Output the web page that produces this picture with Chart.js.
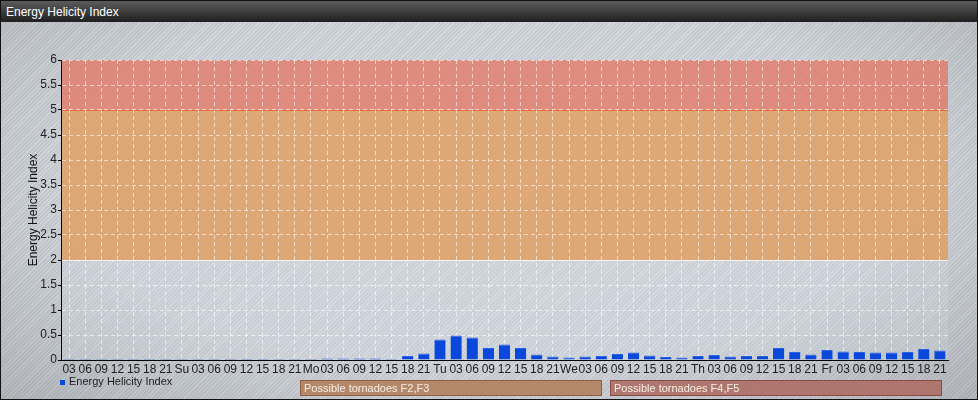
<!DOCTYPE html>
<html>
<head>
<meta charset="utf-8">
<script src="https://cdn.jsdelivr.net/npm/chart.js@4/dist/chart.umd.min.js"></script>
<style>
    html, body { margin: 0; padding: 0; }
    body { width: 978px; height: 400px; overflow: hidden; font-family: "Liberation Sans", Arial, sans-serif; }
    #frame {
        position: relative; width: 976px; height: 398px; border: 1px solid #111;
        background:
            radial-gradient(ellipse at 50% 45%, rgba(255,255,255,0.10) 0%, rgba(255,255,255,0) 60%, rgba(0,0,0,0.14) 100%),
            repeating-linear-gradient(135deg, #c6cbd1 0px, #c6cbd1 2px, #d6dade 2px, #d6dade 3px);
    }
    #titlebar {
        position: absolute; left: 0; top: 0; width: 976px; height: 21px;
        background: linear-gradient(#5c5c5c, #1f1f1f);
        color: #fff; font-size: 12px; line-height: 22px; padding-left: 5px; box-sizing: border-box;
    }
    #chartBox { position: absolute; left: -1px; top: -1px; width: 978px; height: 400px; }
    .legend { position: absolute; left: 59px; top: 374px; font-size: 11px; color: #222; }
    .legend span.sq { display: inline-block; width: 5px; height: 5px; background: #0a47db; margin-right: 4px; vertical-align: 0px; }
    .zoneBox {
        position: absolute; top: 379px; height: 14px; border: 1px solid; color: #f7efe6;
        font-size: 11px; line-height: 14px; padding-left: 3px; box-sizing: content-box;
    }
</style>
</head>
<body>
<div id="frame">
    <div id="chartBox"><canvas id="ehiChart" width="978" height="400"></canvas></div>
    <div id="titlebar">Energy Helicity Index</div>
    <div class="legend"><span class="sq"></span>Energy Helicity Index</div>
    <div class="zoneBox" style="left:299px; width:297px; background:rgba(176,124,88,0.85); border-color:#8e5f40;">Possible tornadoes F2,F3</div>
    <div class="zoneBox" style="left:609px; width:327px; background:rgba(172,108,98,0.88); border-color:#8c4a42;">Possible tornadoes F4,F5</div>
</div>
<script>
const labels = [
    "03", "06", "09", "12", "15", "18", "21",
    "Su", "03", "06", "09", "12", "15", "18", "21",
    "Mo", "03", "06", "09", "12", "15", "18", "21",
    "Tu", "03", "06", "09", "12", "15", "18", "21",
    "We", "03", "06", "09", "12", "15", "18", "21",
    "Th", "03", "06", "09", "12", "15", "18", "21",
    "Fr", "03", "06", "09", "12", "15", "18", "21"
];

const ehiValues = [
    0.02, 0.02, 0.02, 0.02, 0.02, 0.02, 0.02,
    0.02, 0.02, 0.02, 0.02, 0.02, 0.02, 0.02, 0.02,
    0.02, 0.03, 0.03, 0.03, 0.03, 0.02, 0.08, 0.13,
    0.41, 0.49, 0.45, 0.24, 0.31, 0.24, 0.11, 0.07,
    0.05, 0.07, 0.08, 0.12, 0.15, 0.09, 0.06, 0.05,
    0.08, 0.10, 0.07, 0.08, 0.08, 0.24, 0.16, 0.11,
    0.20, 0.17, 0.16, 0.15, 0.15, 0.16, 0.22, 0.19
];

// threshold bands of the index
const zoneFrom = [0, 2, 5];
const zoneTo = [2, 5, 6];
const zoneFill = ["rgba(214,222,230,0.22)", "rgba(226,152,84,0.74)", "rgba(230,112,92,0.72)"];

const zonePlugin = {
    id: "zones",
    beforeDraw(chart) {
        const { ctx, chartArea, scales } = chart;
        ctx.save();
        for (let i = 0; i < zoneFrom.length; i++) {
            const yTop = scales.y.getPixelForValue(zoneTo[i]);
            const yBot = scales.y.getPixelForValue(zoneFrom[i]);
            ctx.fillStyle = zoneFill[i];
            ctx.fillRect(chartArea.left, yTop, chartArea.right - chartArea.left, yBot - yTop);
        }
        // band edges
        ctx.lineWidth = 1;
        ctx.strokeStyle = "#e8703c";
        let y5 = Math.round(scales.y.getPixelForValue(5)) + 0.5;
        ctx.beginPath(); ctx.moveTo(chartArea.left, y5); ctx.lineTo(chartArea.right, y5); ctx.stroke();
        ctx.strokeStyle = "rgba(255,255,255,0.7)";
        let y2 = Math.round(scales.y.getPixelForValue(2)) + 0.5;
        ctx.beginPath(); ctx.moveTo(chartArea.left, y2); ctx.lineTo(chartArea.right, y2); ctx.stroke();
        ctx.restore();
    }
};

const ctx = document.getElementById("ehiChart").getContext("2d");

let ehiChart = new Chart(ctx, {
    type: "bar",
    data: {
        labels: labels,
        datasets: [{
            label: "Energy Helicity Index",
            data: ehiValues,
            backgroundColor: "#0a47db",
            borderColor: "#2a62e6",
            borderWidth: { top: 1, left: 0, right: 0, bottom: 0 },
            categoryPercentage: 1,
            barPercentage: 0.7
        }]
    },
    options: {
        responsive: false,
        animation: false,
        devicePixelRatio: 1,
        layout: { padding: { top: 60, right: 30, bottom: 20, left: 0 } },
        plugins: { legend: { display: false }, tooltip: { enabled: false } },
        scales: {
            x: {
                offset: true,
                grid: { offset: false, color: "rgba(255,255,255,0.6)", tickLength: 0, drawTicks: false },
                border: { display: true, color: "#000", width: 1, dash: [4, 3] },
                ticks: {
                    autoSkip: false, maxRotation: 0, minRotation: 0, padding: 2,
                    color: "#222", font: { family: "Liberation Sans", size: 12 }
                },
                afterFit(scale) { scale.height = 20; }
            },
            y: {
                min: 0,
                max: 6,
                grid: { color: "rgba(255,255,255,0.6)", tickLength: 3, tickColor: "#000", tickBorderDash: [] },
                border: { display: true, color: "#000", width: 1, dash: [4, 3] },
                ticks: {
                    stepSize: 0.5, padding: 1,
                    color: "#222", font: { family: "Liberation Sans", size: 12 },
                    callback: value => String(value)
                },
                title: {
                    display: true, text: "Energy Helicity Index", color: "#111",
                    font: { family: "Liberation Sans", size: 12 }, padding: { top: 26, bottom: 0 }
                },
                afterFit(scale) { scale.width = 61; }
            }
        }
    },
    plugins: [zonePlugin]
});
</script>
</body>
</html>
